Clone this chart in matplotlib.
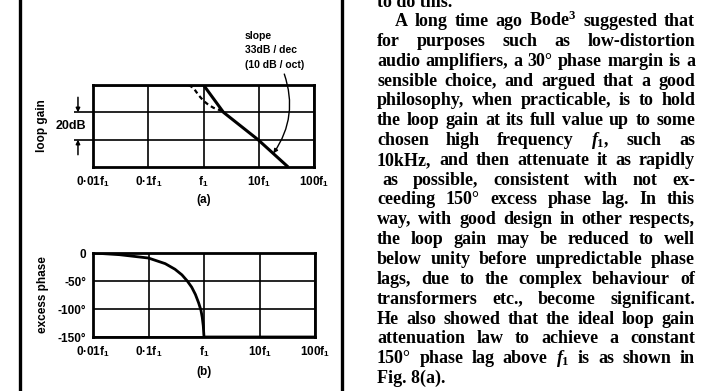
import matplotlib.pyplot as plt

plt.rcParams['mathtext.fontset'] = 'custom'
plt.rcParams['mathtext.rm'] = 'Liberation Serif:bold'
plt.rcParams['mathtext.it'] = 'Liberation Serif:italic:bold'
plt.rcParams['mathtext.sf'] = 'Liberation Sans:bold'

W, H = 717, 391

### Data
freq_ticks = [0.01, 0.1, 1, 10, 100]
freq_labels = ['0·01f$_\\mathsf{1}$', '0·1f$_\\mathsf{1}$', 'f$_\\mathsf{1}$',
               '10f$_\\mathsf{1}$', '100f$_\\mathsf{1}$']

# (a) loop gain, dB relative to full value
gain_freq = [0.01, 1.0, 2.3, 9.7, 34]
gain_db = [0, 0, -20, -40, -60]
# dashed alternative near the knee
dash_freq = [0.54, 0.66, 0.81, 1.0, 1.23, 1.52, 2.1]
dash_db = [0, -2.2, -7.3, -11.6, -14.5, -16.7, -18.8]

# (b) excess phase, degrees
phase_freq = [0.01, 0.03, 0.1, 0.2, 0.3, 0.4, 0.5, 0.6, 0.7, 0.8, 0.88, 0.93, 0.97, 1.0, 100]
phase_deg = [0, -3, -9, -19, -29, -39, -50, -61, -74, -89, -102, -115, -130, -150, -150]
phase_ticks = [0, -50, -100, -150]
phase_labels = ['0', '-50°', '-100°', '-150°']

body_lines = [
    "A long time ago Bode$^3$ suggested that",
    "for purposes such as low-distortion",
    "audio amplifiers, a 30° phase margin is a",
    "sensible choice, and argued that a good",
    "philosophy, when practicable, is to hold",
    "the loop gain at its full value up to some",
    "chosen high frequency $f_1$, such as",
    "10kHz, and then attenuate it as rapidly",
    "as possible, consistent with not ex-",
    "ceeding 150° excess phase lag. In this",
    "way, with good design in other respects,",
    "the loop gain may be reduced to well",
    "below unity before unpredictable phase",
    "lags, due to the complex behaviour of",
    "transformers etc., become significant.",
    "He also showed that the ideal loop gain",
    "attenuation law to achieve a constant",
    "150° phase lag above $f_1$ is as shown in",
]

### Figure
fig = plt.figure(figsize=(W / 100, H / 100), dpi=100)
lab_font = dict(family='Liberation Sans', weight='bold')

def px_axes(left, top, right, bottom):
    return fig.add_axes([left / W, 1 - bottom / H, (right - left) / W, (bottom - top) / H])

def style_freq_axis(ax):
    ax.set_xscale('log')
    ax.set_xlim(0.01, 100)
    ax.set_xticks(freq_ticks)
    ax.set_xticklabels(freq_labels, fontsize=8.5, **lab_font)
    ax.minorticks_off()
    ax.tick_params(axis='x', length=0, pad=5)
    for s in ax.spines.values():
        s.set_linewidth(2)
    ax.grid(True, color='k', lw=1.2)

# outer frame of the figure box
fig.add_artist(plt.Line2D([20 / W, 20 / W], [0, 1], color='k', lw=2.4))
fig.add_artist(plt.Line2D([342 / W, 342 / W], [0, 1], color='k', lw=2.4))

# (a)
ax1 = px_axes(93, 85, 314, 167)
style_freq_axis(ax1)
ax1.set_ylim(-60, 0)
ax1.set_yticks([-20, -40])
ax1.set_yticklabels(['', ''])
ax1.tick_params(axis='y', length=14, width=1.2, direction='out')
ax1.plot(gain_freq, gain_db, color='k', lw=2.2, solid_capstyle='butt')
ax1.plot(dash_freq, dash_db, color='k', lw=1.6, ls=(0, (2, 1.5)))
ax1.text(-0.23, 0.5, 'loop gain', rotation=90, ha='center', va='center',
         transform=ax1.transAxes, fontsize=8.5, **lab_font)
ax1.text(0.5, -0.40, '(a)', ha='center', va='center', transform=ax1.transAxes,
         fontsize=8.5, **lab_font)

# 20 dB marker
ax1.text(-0.10, -30, '20dB', ha='center', va='center', transform=ax1.get_yaxis_transform(),
         fontsize=9, **lab_font)
arr = dict(arrowstyle='-|>', color='k', lw=1.1, mutation_scale=6, shrinkA=0, shrinkB=0)
ax1.annotate('', xy=(-0.068, -20), xytext=(-0.068, -9),
             xycoords=('axes fraction', 'data'), textcoords=('axes fraction', 'data'),
             arrowprops=arr, annotation_clip=False)
ax1.annotate('', xy=(-0.068, -40), xytext=(-0.068, -51),
             xycoords=('axes fraction', 'data'), textcoords=('axes fraction', 'data'),
             arrowprops=arr, annotation_clip=False)

# slope note
ax1.annotate('', xy=(18.4, -50), xytext=(29, 8),
             arrowprops=dict(arrowstyle='-|>', color='k', lw=1.0, mutation_scale=6,
                             shrinkA=0, shrinkB=0, connectionstyle='arc3,rad=-0.25'),
             annotation_clip=False)
ax1.text(245 / W, 1 - 31 / H, 'slope\n33dB / dec\n(10 dB / oct)', transform=fig.transFigure,
         ha='left', va='top', fontsize=7.5, linespacing=1.55, **lab_font)

# (b)
ax2 = px_axes(93, 253, 315, 337)
style_freq_axis(ax2)
ax2.set_ylim(-150, 0)
ax2.set_yticks(phase_ticks)
ax2.set_yticklabels(phase_labels, fontsize=8.5, **lab_font)
ax2.tick_params(axis='y', length=0, pad=5)
ax2.plot(phase_freq, phase_deg, color='k', lw=2.0)
ax2.text(-0.225, 0.5, 'excess phase', rotation=90, ha='center', va='center',
         transform=ax2.transAxes, fontsize=8.5, **lab_font)
ax2.text(0.5, -0.42, '(b)', ha='center', va='center', transform=ax2.transAxes,
         fontsize=8.5, **lab_font)

### Body text, justified column
body_font = dict(family='Liberation Serif', weight='bold', fontsize=13)
col_left, col_right = 377, 695
base0, step = 26, 357 / 18

fig.text(col_left / W, 1 - (base0 - step + 1) / H, 'to do this.', va='baseline', **body_font)
fig.text(col_left / W, 1 - (base0 + 18 * step) / H, 'Fig. 8(a).', va='baseline', **body_font)

fig.canvas.draw()
r = fig.canvas.get_renderer()
for i, line in enumerate(body_lines):
    y = 1 - (base0 + i * step) / H
    left = col_left
    if i == 0:
        left = 395
    elif i == 8:
        left = 382
    words = line.split(' ')
    texts = [fig.text(0, y, w, va='baseline', **body_font) for w in words]
    widths = [t.get_window_extent(r).width for t in texts]
    gap = (col_right - left - sum(widths)) / (len(words) - 1)
    x = left
    for t, w in zip(texts, widths):
        t.set_x(x / W)
        x += w + gap

fig.savefig('out.png', dpi=100)
